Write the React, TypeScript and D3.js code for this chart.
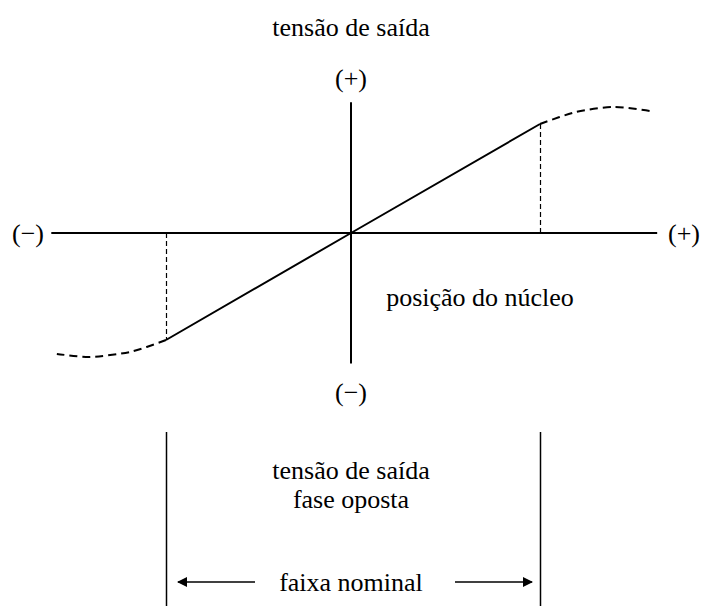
import React from 'react';
import * as d3 from 'd3';

const W = 702;
const H = 606;

// posição do núcleo (x) e tensão de saída (y), unidades normalizadas
const linearRange = [-1, 0, 1];
const rightTail = [
  { x: 1, y: 1 },
  { x: 1.19, y: 1.11 },
  { x: 1.39, y: 1.156 },
  { x: 1.58, y: 1.12 },
];
const leftTail = [
  { x: -1, y: -1 },
  { x: -1.19, y: -1.11 },
  { x: -1.41, y: -1.158 },
  { x: -1.59, y: -1.13 },
];
const axisX = [-1.62, 1.62];
const axisY = [-1.22, 1.2];

const labels = {
  title: 'tensão de saída',
  plus: '(+)',
  minus: '(\u2212)',
  xLabel: 'posição do núcleo',
  opposite: ['tensão de saída', 'fase oposta'],
  range: 'faixa nominal',
};

const App = () => {
  const x = d3.scaleLinear().domain([-1, 0, 1]).range([166, 351, 540]);
  const y = d3.scaleLinear().domain([-1, 0, 1]).range([340, 233, 124]);

  const line = d3
    .line<{ x: number; y: number }>()
    .x((d) => x(d.x))
    .y((d) => y(d.y));
  const tailPath = (pts: { x: number; y: number }[]) =>
    d3.line<{ x: number; y: number }>()
      .x((d) => x(d.x))
      .y((d) => y(d.y))
      .curve(d3.curveCardinal.tension(0.2))(pts) || '';

  const lin = linearRange.map((v) => ({ x: v, y: v }));
  const x0 = x(0);
  const y0 = y(0);
  const xl = x(-1);
  const xr = x(1);
  const arrowY = 582;

  const txt = {
    fontFamily: 'Liberation Serif',
    fontSize: 26,
    fill: '#000',
    textAnchor: 'middle' as const,
    dominantBaseline: 'central' as const,
  };

  return (
    <svg
      width={W}
      height={H}
      style={{ position: 'absolute', left: 0, top: 0, background: '#fff' }}
    >
      <defs>
        <marker
          id="arrow"
          viewBox="0 0 10 10"
          refX="9"
          refY="5"
          markerWidth="13"
          markerHeight="10"
          markerUnits="userSpaceOnUse"
          orient="auto"
        >
          <path d="M0,0 L10,5 L0,10 z" fill="#000" />
        </marker>
      </defs>

      <text x={x0} y={27} {...txt}>{labels.title}</text>

      {/* eixos */}
      <line x1={x(axisX[0])} x2={x(axisX[1])} y1={y0} y2={y0} stroke="#000" strokeWidth={2} />
      <line x1={x0} x2={x0} y1={y(axisY[1])} y2={y(axisY[0])} stroke="#000" strokeWidth={2} />
      <text x={x0} y={78} {...txt}>{labels.plus}</text>
      <text x={x0} y={392} {...txt}>{labels.minus}</text>
      <text x={28} y={y0} {...txt}>{labels.minus}</text>
      <text x={684} y={y0} {...txt}>{labels.plus}</text>

      {/* linhas de projeção */}
      <line x1={xl + 0.5} x2={xl + 0.5} y1={y0} y2={y(-1)} stroke="#000" strokeWidth={1.2} strokeDasharray="5,3" />
      <line x1={xr + 0.5} x2={xr + 0.5} y1={y0} y2={y(1)} stroke="#000" strokeWidth={1.2} strokeDasharray="5,3" />

      {/* curva */}
      <path d={line(lin) || ''} fill="none" stroke="#000" strokeWidth={2} />
      <path d={tailPath(rightTail)} fill="none" stroke="#000" strokeWidth={2} strokeDasharray="8,5" />
      <path d={tailPath(leftTail)} fill="none" stroke="#000" strokeWidth={2} strokeDasharray="8,5" />

      <text x={480} y={297} {...txt}>{labels.xLabel}</text>

      {/* faixa nominal */}
      <line x1={xl + 0.5} x2={xl + 0.5} y1={432} y2={H} stroke="#000" strokeWidth={1.5} />
      <line x1={xr + 0.5} x2={xr + 0.5} y1={432} y2={H} stroke="#000" strokeWidth={1.5} />
      <text x={x0} y={470} {...txt}>{labels.opposite[0]}</text>
      <text x={x0} y={499} {...txt}>{labels.opposite[1]}</text>
      <line x1={255} x2={xl + 12} y1={arrowY} y2={arrowY} stroke="#000" strokeWidth={1.5} markerEnd="url(#arrow)" />
      <line x1={455} x2={xr - 8} y1={arrowY} y2={arrowY} stroke="#000" strokeWidth={1.5} markerEnd="url(#arrow)" />
      <text x={x0} y={arrowY} {...txt}>{labels.range}</text>
    </svg>
  );
};

export default App;
